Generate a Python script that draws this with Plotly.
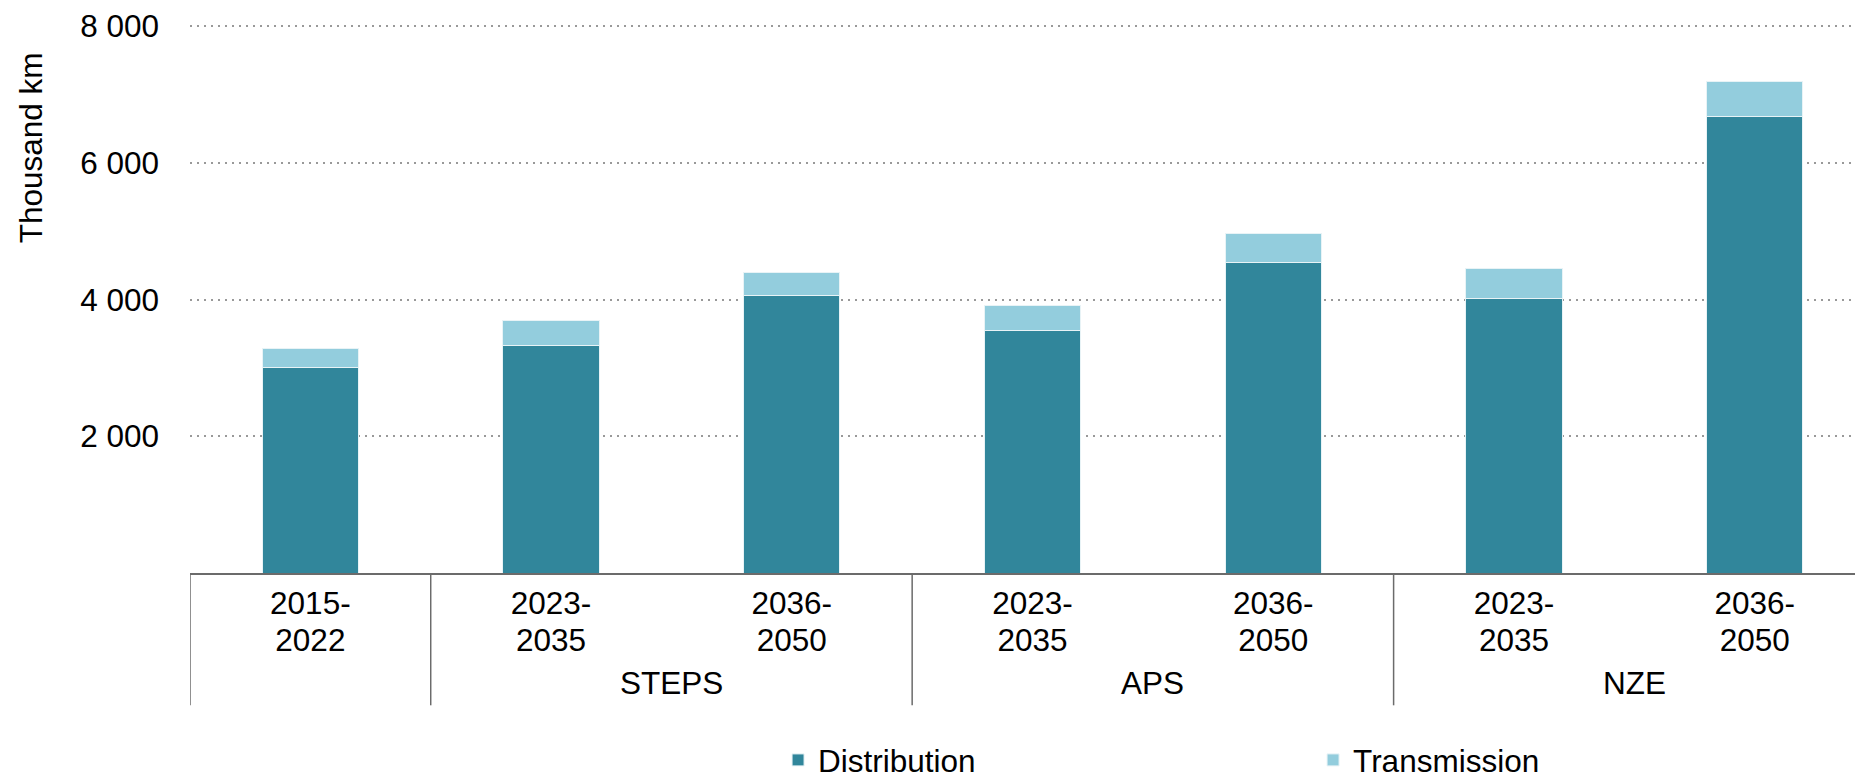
import plotly.graph_objects as go

period_start = ["2015-", "2023-", "2036-", "2023-", "2036-", "2023-", "2036-"]
period_end = ["2022", "2035", "2050", "2035", "2050", "2035", "2050"]
groups = ["STEPS", "APS", "NZE"]
group_centers = [1.5, 3.5, 5.5]
group_edges = [-0.5, 0.5, 2.5, 4.5]
distribution = [3000, 3330, 4060, 3540, 4545, 4012, 6676]
transmission = [280, 365, 335, 375, 428, 436, 512]
yticks = [2000, 4000, 6000, 8000]

xpos = list(range(len(period_start)))
FONT = "Liberation Sans, Arial, sans-serif"
FS = 31.5

fig = go.Figure()
fig.add_trace(go.Bar(x=xpos, y=distribution, name="Distribution",
                     marker=dict(color="#31869B", line=dict(color="#e8f3f6", width=1)),
                     width=0.4))
fig.add_trace(go.Bar(x=xpos, y=transmission, name="Transmission",
                     marker=dict(color="#93CDDD", line=dict(color="#e8f3f6", width=1)),
                     width=0.4))
# invisible carrier for the second line of the period labels
fig.add_trace(go.Scatter(x=xpos, y=distribution, xaxis="x2", mode="none",
                         showlegend=False, hoverinfo="skip"))

shapes = []
for e in group_edges:
    shapes.append(dict(type="line", xref="x", yref="paper", x0=e, x1=e, y0=0, y1=-0.241,
                       line=dict(color="#6b6b6b", width=1.5)))
annotations = []
for g, c in zip(groups, group_centers):
    annotations.append(dict(text=g, x=c, xref="x", y=-0.2006, yref="paper",
                            showarrow=False, yanchor="middle", xanchor="center",
                            font=dict(size=FS, color="black", family=FONT)))
annotations.append(dict(text="Thousand km", textangle=-90, x=-0.095, xref="paper",
                        y=0.7736, yref="paper", showarrow=False, xanchor="center",
                        yanchor="middle", font=dict(size=FS, color="black", family=FONT)))

fig.update_layout(
    template="none",
    barmode="stack",
    width=1855, height=768,
    margin=dict(l=182, r=0, t=16, b=203, pad=0, autoexpand=False),
    plot_bgcolor="white", paper_bgcolor="white",
    font=dict(family=FONT, size=FS, color="black"),
    separators=". ",
    shapes=shapes,
    annotations=annotations,
    legend=dict(orientation="h", x=0.3515, xanchor="left", y=-0.3405, yanchor="middle",
                entrywidth=490, entrywidthmode="pixels",
                font=dict(size=FS, family=FONT, color="black"), traceorder="normal"),
    xaxis=dict(range=[-0.5, 6.45], tickmode="array", tickvals=xpos, ticktext=period_start,
               showgrid=False, showline=True, linecolor="#6b6b6b", linewidth=2,
               ticks="", tickfont=dict(size=FS), zeroline=False, automargin=False,
               ticklabelstandoff=1),
    xaxis2=dict(range=[-0.5, 6.45], overlaying="x", side="bottom", anchor="y",
                tickmode="array", tickvals=xpos, ticktext=period_end,
                showgrid=False, showline=False, ticks="", tickfont=dict(size=FS),
                zeroline=False, automargin=False, ticklabelstandoff=45),
    yaxis=dict(range=[0, 8030], tickmode="array", tickvals=yticks, tickformat=",d",
               showgrid=True, gridcolor="#999999", gridwidth=2, griddash="2px,5px",
               showline=False, zeroline=False, ticks="", ticklabelstandoff=30,
               tickfont=dict(size=FS), automargin=False),
    showlegend=True,
)

fig.write_html("out.html")
